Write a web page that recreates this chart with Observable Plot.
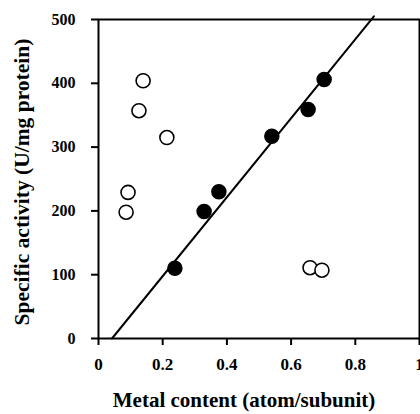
<!DOCTYPE html>
<html>
<head>
<meta charset="utf-8">
<script src="https://cdn.jsdelivr.net/npm/d3@7"></script>
<script src="https://cdn.jsdelivr.net/npm/@observablehq/plot@0.6"></script>
<style>
  html, body { margin: 0; padding: 0; background: #fff; }
  #chart svg { display: block; }
</style>
</head>
<body>
<div id="chart"></div>
<script>
// Filled circles (fitted series)
const filledX = [0.238, 0.329, 0.375, 0.540, 0.653, 0.703];
const filledY = [110, 199, 230, 317, 359, 406];
// Open circles
const openX = [0.139, 0.126, 0.213, 0.092, 0.086, 0.659, 0.696];
const openY = [404, 357, 315, 229, 198, 111, 107];
// Regression line endpoints
const fitX = [0.042, 0.858];
const fitY = [0, 505];
// Ticks
const xTicks = [0, 0.2, 0.4, 0.6, 0.8, 1];
const xTickLabels = ["0", "0.2", "0.4", "0.6", "0.8", "1"];
const yTicks = [0, 100, 200, 300, 400, 500];
const xLabel = "Metal content (atom/subunit)";
const yLabel = "Specific activity (U/mg protein)";

const filled = filledX.map((x, i) => ({x, y: filledY[i]}));
const open = openX.map((x, i) => ({x, y: openY[i]}));
const fit = fitX.map((x, i) => ({x, y: fitY[i]}));

const font = "'Liberation Serif', 'Times New Roman', serif";

const chart = Plot.plot({
  width: 420,
  height: 414,
  marginLeft: 98,
  marginRight: 1,
  marginTop: 19,
  marginBottom: 76,
  style: {fontFamily: font, background: "#fff", color: "#000"},
  x: {domain: [0, 1]},
  y: {domain: [0, 500]},
  marks: [
    Plot.frame({stroke: "#000", strokeWidth: 2}),
    Plot.axisX({
      ticks: xTicks,
      tickFormat: (d) => xTickLabels[xTicks.indexOf(d)],
      tickSize: 7,
      tickPadding: 12,
      strokeWidth: 2,
      fontSize: 17,
      fontWeight: "bold",
      label: null
    }),
    Plot.axisY({
      ticks: yTicks,
      tickSize: 7,
      tickPadding: 16,
      strokeWidth: 2,
      fontSize: 16,
      fontWeight: "bold",
      label: null
    }),
    Plot.text([xLabel], {
      frameAnchor: "bottom",
      dx: -15,
      dy: 68,
      text: (d) => d,
      fontSize: 21,
      fontWeight: "bold",
      lineAnchor: "bottom"
    }),
    Plot.text([yLabel], {
      frameAnchor: "left",
      dx: -76,
      dy: 3,
      rotate: -90,
      textAnchor: "middle",
      text: (d) => d,
      fontSize: 21.5,
      fontWeight: "bold"
    }),
    Plot.line(fit, {x: "x", y: "y", stroke: "#000", strokeWidth: 2, clip: false}),
    Plot.dot(open, {x: "x", y: "y", r: 7, fill: "#fff", stroke: "#000", strokeWidth: 1.6}),
    Plot.dot(filled, {x: "x", y: "y", r: 7, fill: "#000", stroke: "#000"})
  ]
});
document.getElementById("chart").append(chart);
</script>
</body>
</html>
